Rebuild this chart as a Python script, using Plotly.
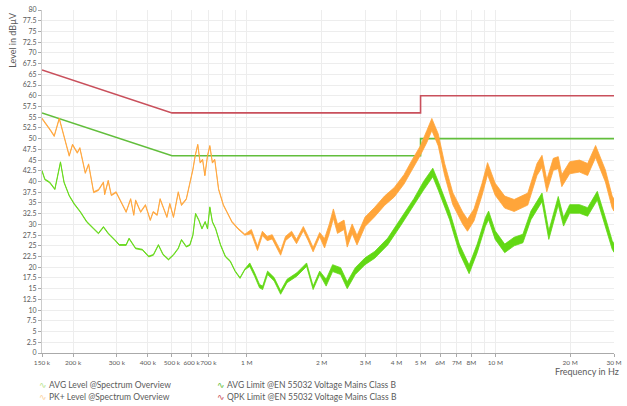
import numpy as np
import plotly.graph_objects as go

# ---------------- measurement data (frequency in MHz, level in dBµV) ----------------
pk_freq = [0.150, 0.155, 0.162, 0.168, 0.176, 0.193, 0.199, 0.208, 0.213, 0.224,
           0.231, 0.242, 0.253, 0.265, 0.268, 0.277, 0.285, 0.298, 0.312, 0.327,
           0.341, 0.351, 0.357, 0.374, 0.391, 0.409, 0.420, 0.436, 0.448, 0.463,
           0.477, 0.490, 0.507, 0.530, 0.546, 0.571, 0.587, 0.607, 0.620, 0.635,
           0.649, 0.664, 0.678, 0.695, 0.710, 0.727, 0.743, 0.770, 0.805, 0.832,
           0.871, 0.922, 0.982, 1.043, 1.104, 1.155, 1.208, 1.265, 1.368, 1.431,
           1.514, 1.585, 1.688, 1.766, 1.848, 1.964, 2.055, 2.148, 2.230, 2.316,
           2.461, 2.535, 2.653, 2.775, 2.990, 3.270, 3.580, 3.920, 4.290, 4.630,
           4.990, 5.300, 5.550, 5.890, 6.250, 6.740, 7.380, 7.720, 8.200, 8.840,
           9.300, 9.980, 10.90, 11.90, 13.50, 14.70, 15.40, 16.10, 17.10, 17.90,
           18.50, 19.90, 21.80, 23.50, 25.30, 27.70, 29.50, 30.00]
pk_level = [54.7, 53.6, 52.0, 50.6, 54.7, 46.0, 48.6, 46.7, 47.8, 42.0,
            44.0, 37.5, 38.0, 39.8, 37.0, 40.2, 36.8, 37.5, 35.2, 32.9,
            35.9, 32.2, 35.6, 32.9, 34.5, 31.0, 32.9, 32.2, 35.9, 33.5,
            31.7, 34.8, 31.7, 37.5, 34.5, 35.9, 39.0, 42.8, 46.0, 48.6,
            44.4, 45.1, 41.4, 46.0, 48.3, 44.4, 45.1, 38.2, 34.5, 32.9,
            30.6, 29.0, 27.6, 28.3, 24.4, 27.9, 26.7, 27.1, 23.3, 26.7,
            27.9, 26.0, 29.0, 26.7, 24.1, 27.6, 25.6, 29.0, 32.5, 29.0,
            29.9, 25.8, 29.0, 26.3, 30.6, 32.9, 35.5, 37.5, 40.5, 44.0,
            47.2, 50.5, 53.3, 49.7, 42.8, 36.0, 31.5, 29.8, 32.2, 38.2,
            43.0, 38.2, 35.2, 34.4, 35.9, 42.8, 44.7, 39.0, 44.0, 44.4,
            40.2, 43.2, 43.6, 42.8, 47.0, 41.3, 35.2, 34.5]

avg_freq = [0.150, 0.154, 0.161, 0.169, 0.178, 0.184, 0.193, 0.202, 0.214, 0.227,
            0.242, 0.253, 0.265, 0.277, 0.294, 0.307, 0.327, 0.336, 0.357, 0.380,
            0.403, 0.421, 0.441, 0.460, 0.484, 0.507, 0.530, 0.546, 0.571, 0.590,
            0.607, 0.622, 0.641, 0.660, 0.680, 0.695, 0.710, 0.727, 0.749, 0.784,
            0.820, 0.858, 0.897, 0.939, 0.982, 1.028, 1.075, 1.125, 1.158, 1.212,
            1.288, 1.368, 1.452, 1.589, 1.740, 1.848, 1.964, 2.085, 2.214, 2.385,
            2.535, 2.731, 2.990, 3.270, 3.690, 4.170, 4.700, 5.140, 5.600, 5.890,
            6.540, 7.160, 7.840, 8.450, 9.120, 9.390, 9.980, 10.90, 11.90, 12.90,
            13.90, 15.40, 16.40, 17.90, 18.80, 19.90, 21.80, 23.50, 25.70, 27.70,
            29.50, 30.00]
avg_level = [42.5, 40.5, 39.8, 38.2, 44.5, 39.8, 36.7, 34.8, 32.9, 30.6,
             29.0, 27.9, 29.4, 27.9, 26.4, 25.2, 25.2, 26.7, 24.4, 24.1,
             22.5, 22.9, 25.2, 23.0, 21.8, 22.9, 24.4, 26.4, 24.8, 25.2,
             27.5, 32.5, 31.0, 29.0, 30.6, 29.0, 34.0, 30.6, 29.0, 25.2,
             22.5, 21.4, 19.1, 17.5, 19.5, 20.6, 18.3, 15.6, 15.2, 18.7,
             17.2, 14.1, 16.8, 18.3, 20.6, 15.2, 18.7, 16.4, 19.8, 19.1,
             15.8, 19.1, 21.4, 22.9, 26.0, 30.6, 35.2, 39.0, 42.1, 39.0,
             32.1, 24.4, 19.5, 24.4, 30.6, 32.1, 27.5, 24.4, 26.0, 26.7,
             32.1, 36.3, 27.5, 35.5, 30.6, 33.6, 33.6, 32.9, 36.7, 30.6,
             25.2, 24.5]

# sweep-to-sweep scatter (half width, dB) of each trace per frequency band
band_edges = [0.15, 1.0, 2.0, 5.0, 30.0]
pk_scatter = [0.12, 0.5, 1.1, 1.4]
avg_scatter = [0.10, 0.4, 0.8, 1.0]

# EN 55032 class B mains limits
lim_freq = [0.15, 0.5, 5.0, 5.0, 30.0]
qpk_limit = [66, 56, 56, 60, 60]
avg_limit = [56, 46, 46, 50, 50]

# axis ticks
x_ticks = [0.15, 0.2, 0.3, 0.4, 0.5, 0.6, 0.7, 1, 2, 3, 4, 5, 6, 7, 8, 10, 20, 30]
x_labels = ["150 k", "200 k", "300 k", "400 k", "500 k", "600 k", "700 k", "1 M",
            "2 M", "3 M", "4 M", "5 M", "6M", "7M", "8M", "10 M", "20 M", "30 M"]
x_grid_extra = [0.8, 0.9, 9]
y_ticks = [i * 2.5 for i in range(33)]
y_labels = [("%g" % v) for v in y_ticks]

PK_COLOR = "#ffa53a"
AVG_COLOR = "#62d814"
AVG_LIM_COLOR = "#62be3c"
QPK_LIM_COLOR = "#c9505c"
TXT = "#5a5a5a"
FONT = "Lato"

ML, MR, MT, MB = 42, 9, 5, 53
W, H = 627, 406
PW, PH = W - ML - MR, H - MT - MB


def band(freq, level, scatter):
    f = np.asarray(freq)
    lv = np.asarray(level)
    idx = np.clip(np.searchsorted(band_edges, f, side="right") - 1, 0, len(scatter) - 1)
    s = np.asarray(scatter)[idx]
    xs = np.concatenate([f, f[::-1]])
    ys = np.concatenate([lv + s, (lv - s)[::-1]])
    return xs, ys


def px_x(px):
    return (px - ML) / PW


def px_y(py):
    return (H - MB - py) / PH


fig = go.Figure()

fig.add_trace(go.Scatter(x=lim_freq, y=avg_limit, mode="lines",
                         line=dict(color=AVG_LIM_COLOR, width=1.6), showlegend=False))
fig.add_trace(go.Scatter(x=lim_freq, y=qpk_limit, mode="lines",
                         line=dict(color=QPK_LIM_COLOR, width=1.6), showlegend=False))

for freq, level, scatter, col in [(pk_freq, pk_level, pk_scatter, PK_COLOR),
                                  (avg_freq, avg_level, avg_scatter, AVG_COLOR)]:
    xs, ys = band(freq, level, scatter)
    fig.add_trace(go.Scatter(x=xs, y=ys, mode="lines", fill="toself",
                             fillcolor=col, line=dict(color=col, width=0.8),
                             showlegend=False, hoverinfo="skip"))

fig.update_xaxes(type="log", range=[np.log10(0.15), np.log10(30)],
                 tickvals=x_ticks, ticktext=x_labels, tickangle=0,
                 ticklabeloverflow="allow",
                 tickfont=dict(family=FONT, size=6.5, color=TXT),
                 ticks="outside", ticklen=3, tickcolor="#aaaaaa",
                 showline=True, linecolor="#aaaaaa", linewidth=1,
                 showgrid=True, gridcolor="#ededed", gridwidth=1,
                 minor=dict(tickmode="array", tickvals=x_grid_extra, showgrid=True,
                            gridcolor="#ededed", ticks=""),
                 zeroline=False)
fig.update_yaxes(range=[0, 80], tickvals=y_ticks, ticktext=y_labels,
                 tickfont=dict(family=FONT, size=7, color=TXT),
                 ticks="outside", ticklen=3, tickcolor="#aaaaaa",
                 showline=True, linecolor="#cccccc", linewidth=1,
                 showgrid=True, gridcolor="#ededed", gridwidth=1, zeroline=False)

annotations = [
    dict(text="Level in dBµV", textangle=-90, xref="paper", yref="paper",
         x=px_x(12), y=px_y(35), xanchor="center", yanchor="middle",
         showarrow=False, font=dict(family=FONT, size=9, color=TXT)),
    dict(text="Frequency in Hz", xref="paper", yref="paper",
         x=px_x(625), y=px_y(372), xanchor="right", yanchor="middle",
         showarrow=False, font=dict(family=FONT, size=9, color=TXT)),
]

legend_items = [
    ("AVG Level @Spectrum Overview", "#b9e48f", 43, 385.5),
    ("PK+ Level @Spectrum Overview", "#fbd2a0", 43, 398),
    ("AVG Limit @EN 55032 Voltage Mains Class B", AVG_LIM_COLOR, 222, 385.5),
    ("QPK Limit @EN 55032 Voltage Mains Class B", QPK_LIM_COLOR, 222, 398),
]
for label, col, px, py in legend_items:
    annotations.append(dict(text="∿", xref="paper", yref="paper",
                            x=px_x(px), y=px_y(py),
                            xanchor="center", yanchor="middle", showarrow=False,
                            font=dict(family="DejaVu Sans", size=9, color=col)))
    annotations.append(dict(text=label, xref="paper", yref="paper",
                            x=px_x(px + 4), y=px_y(py),
                            xanchor="left", yanchor="middle", showarrow=False,
                            font=dict(family=FONT, size=8.5, color=TXT)))

fig.update_layout(width=W, height=H,
                  margin=dict(l=ML, r=MR, t=MT, b=MB, pad=0),
                  plot_bgcolor="white", paper_bgcolor="white",
                  showlegend=False, annotations=annotations)

fig.write_html("out.html")
